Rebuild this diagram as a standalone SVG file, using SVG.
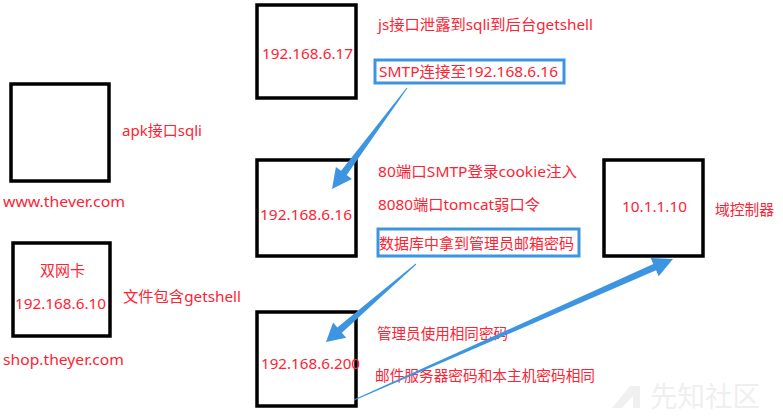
<svg xmlns="http://www.w3.org/2000/svg" width="783" height="418" viewBox="0 0 783 418">
<style>
.box{fill:#ffffff;stroke:#000000;stroke-width:3.5}
.hl{fill:none;stroke:#3d95e2;stroke-width:3}
.t{font-family:"Noto Sans","Noto Sans CJK SC",sans-serif;font-size:15px;fill:#ff2233}
.arr{fill:#3d95e2}
.wm{font-family:"Noto Sans CJK SC",sans-serif;font-size:28px;fill:#efefef}
</style>
<rect width="783" height="418" fill="#ffffff"/>
<g id="watermark">
<polygon points="612,408 630,386 640,386 640,408 633,408 633,396 622,408" fill="#f0f0f0"/>
<text class="wm" x="650" y="407" textLength="110" lengthAdjust="spacingAndGlyphs">先知社区</text>
</g>
<g id="node-www">
<rect class="box" x="11" y="84" width="98" height="97"/>
<text class="t" x="122" y="136" textLength="80" lengthAdjust="spacingAndGlyphs">apk接口sqli</text>
<text class="t" x="3" y="207" textLength="122" lengthAdjust="spacingAndGlyphs">www.thever.com</text>
</g>
<g id="node-shop">
<rect class="box" x="13" y="243" width="97" height="93"/>
<text class="t" x="40" y="276" textLength="45" lengthAdjust="spacingAndGlyphs">双网卡</text>
<text class="t" x="15" y="309" textLength="91" lengthAdjust="spacingAndGlyphs">192.168.6.10</text>
<text class="t" x="123" y="302" textLength="118" lengthAdjust="spacingAndGlyphs">文件包含getshell</text>
<text class="t" x="3" y="365" textLength="121" lengthAdjust="spacingAndGlyphs">shop.theyer.com</text>
</g>
<g id="node-17">
<rect class="box" x="257" y="5" width="99" height="93"/>
<text class="t" x="262" y="59" textLength="91" lengthAdjust="spacingAndGlyphs">192.168.6.17</text>
<text class="t" x="378" y="30" textLength="215" lengthAdjust="spacingAndGlyphs">js接口泄露到sqli到后台getshell</text>
<rect class="hl" x="375" y="60" width="189" height="23"/>
<text class="t" x="379" y="77" textLength="179" lengthAdjust="spacingAndGlyphs">SMTP连接至192.168.6.16</text>
</g>
<g id="node-16">
<rect class="box" x="257" y="160" width="99" height="96"/>
<text class="t" x="260" y="220" textLength="92" lengthAdjust="spacingAndGlyphs">192.168.6.16</text>
<text class="t" x="378" y="177" textLength="199" lengthAdjust="spacingAndGlyphs">80端口SMTP登录cookie注入</text>
<text class="t" x="378" y="210" textLength="162" lengthAdjust="spacingAndGlyphs">8080端口tomcat弱口令</text>
<rect class="hl" x="378" y="229" width="201" height="27"/>
<text class="t" x="379" y="249" textLength="195" lengthAdjust="spacingAndGlyphs">数据库中拿到管理员邮箱密码</text>
</g>
<g id="node-200">
<rect class="box" x="257" y="312" width="99" height="94"/>
<text class="t" x="261" y="369" textLength="99" lengthAdjust="spacingAndGlyphs">192.168.6.200</text>
<text class="t" x="377" y="339" textLength="131" lengthAdjust="spacingAndGlyphs">管理员使用相同密码</text>
<text class="t" x="375" y="381" textLength="220" lengthAdjust="spacingAndGlyphs">邮件服务器密码和本主机密码相同</text>
</g>
<g id="node-dc">
<rect class="box" x="604" y="160" width="99" height="96"/>
<text class="t" x="622" y="212" textLength="65" lengthAdjust="spacingAndGlyphs">10.1.1.10</text>
<text class="t" x="715" y="215" textLength="59" lengthAdjust="spacingAndGlyphs">域控制器</text>
</g>
<g id="connectors">
<polygon class="arr" points="406.6,87.7 341.1,170.8 335.9,167.0 332,189 351.9,178.9 346.7,175.0 407.4,88.3"/>
<polygon class="arr" points="415.7,263.6 337.3,327.6 333.1,322.6 326,342 346.2,337.8 341.9,332.8 416.3,264.4"/>
<polygon class="arr" points="353.8,399.5 653.3,263.9 650.7,258.0 673,259 658.7,276.2 656.1,270.3 354.2,400.5"/>
</g>
</svg>
